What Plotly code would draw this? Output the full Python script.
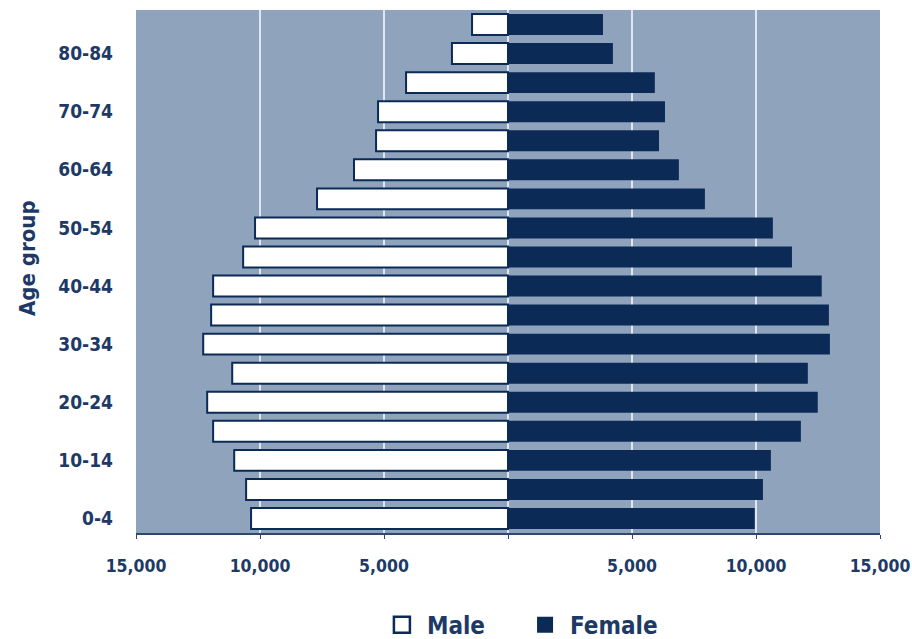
import plotly.graph_objects as go

age_groups = ["0-4", "5-9", "10-14", "15-19", "20-24", "25-29", "30-34", "35-39",
              "40-44", "45-49", "50-54", "55-59", "60-64", "65-69", "70-74",
              "75-79", "80-84", "85+"]
male = [10360, 10560, 11040, 11890, 12130, 11120, 12290, 11970, 11890,
        10680, 10200, 7700, 6210, 5320, 5240, 4110, 2260, 1450]
female = [9950, 10280, 10600, 11810, 12490, 12090, 12980, 12940, 12650,
          11450, 10680, 7940, 6890, 6090, 6330, 5920, 4230, 3830]
x_tickvals = [-15000, -10000, -5000, 0, 5000, 10000, 15000]
x_ticktext = ["15,000", "10,000", "5,000", "", "5,000", "10,000", "15,000"]
y_ticklabels = [a for i, a in enumerate(age_groups) if i % 2 == 0]

navy = "#0b2a56"
txt = "#1d3a66"
bg = "#8fa3bd"
font_fam = "DejaVu Sans Condensed, Liberation Sans Narrow, Arial Narrow, sans-serif"

fig = go.Figure()
fig.add_trace(go.Bar(
    y=age_groups, x=[-v for v in male], orientation="h", name="Male",
    marker=dict(color="white", line=dict(color=navy, width=2)),
    width=0.72, showlegend=False,
))
fig.add_trace(go.Bar(
    y=age_groups, x=female, orientation="h", name="Female",
    marker=dict(color=navy, line=dict(color=navy, width=0)),
    width=0.72, showlegend=False,
))
# legend entries with larger square swatches
fig.add_trace(go.Scatter(
    x=[None], y=[None], mode="markers", name="Male    ",
    marker=dict(symbol="square", size=19, color="white", line=dict(color=navy, width=2.5)),
))
fig.add_trace(go.Scatter(
    x=[None], y=[None], mode="markers", name="Female",
    marker=dict(symbol="square", size=19, color=navy, line=dict(color=navy, width=0)),
))

fig.update_layout(
    width=912, height=639,
    margin=dict(l=136, r=32, t=10, b=106, autoexpand=False),
    barmode="overlay",
    plot_bgcolor=bg, paper_bgcolor="white",
    font=dict(family=font_fam, color=txt, size=18, weight="bold"),
    showlegend=True,
    legend=dict(orientation="h", x=0.516, xanchor="center", y=-0.176, yanchor="middle",
                font=dict(size=24, color=txt, family=font_fam, weight="bold"),
                traceorder="normal", itemwidth=40),
    xaxis=dict(range=[-15000, 15000], tickvals=x_tickvals, ticktext=x_ticktext,
               showgrid=True, gridcolor="#dfe6ef", gridwidth=2,
               zeroline=False, showline=True, linecolor="#30486e", linewidth=2,
               ticks="outside", ticklen=4, tickcolor="#30486e",
               ticklabelstandoff=12, ticklabeloverflow="allow",
               tickfont=dict(size=17.5, color=txt, family=font_fam, weight="bold")),
    yaxis=dict(tickvals=y_ticklabels, ticktext=y_ticklabels,
               categoryorder="array", categoryarray=age_groups,
               range=[-0.5, 17.5], showgrid=False, zeroline=False,
               ticks="", ticklabelstandoff=22,
               tickfont=dict(size=19, color=txt, family=font_fam, weight="bold")),
    annotations=[dict(text="Age group", textangle=-90, xref="paper", yref="paper",
                      x=-0.145, y=0.526, xanchor="center", yanchor="middle",
                      showarrow=False,
                      font=dict(size=22, color=txt, family=font_fam, weight="bold"))],
)

fig.write_html("out.html")
